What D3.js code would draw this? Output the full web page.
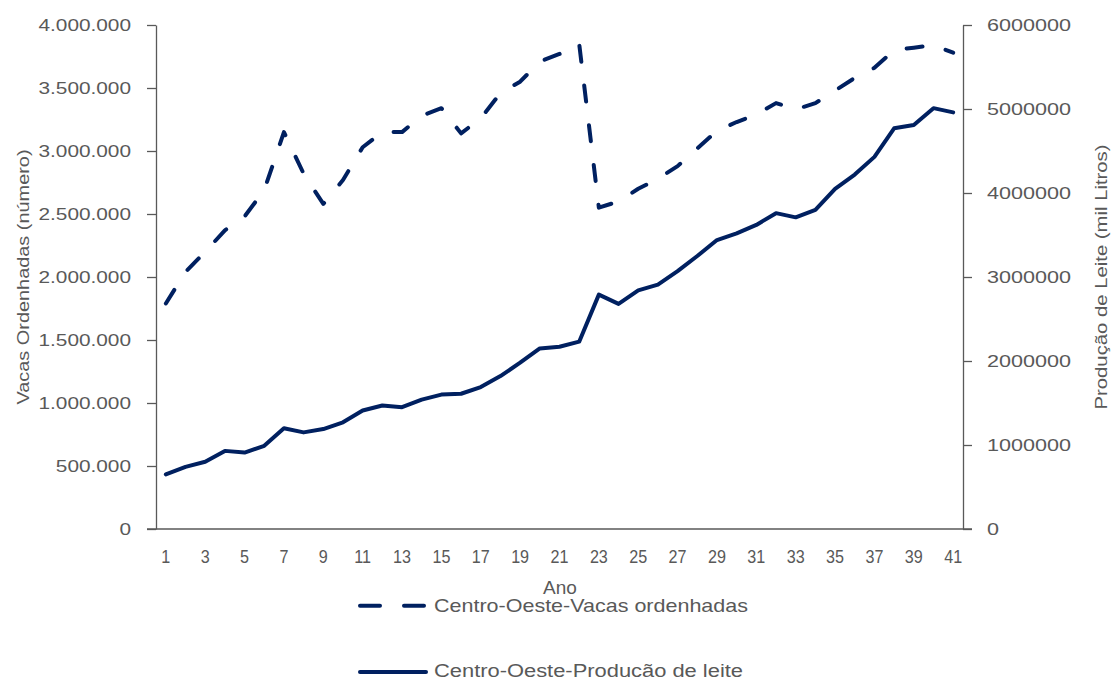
<!DOCTYPE html>
<html><head><meta charset="utf-8">
<script src="https://cdn.jsdelivr.net/npm/d3@7"></script>
<style>
html,body{margin:0;padding:0;background:#fff;}
svg{display:block;}
text{font-family:"Liberation Sans",Arial,sans-serif;fill:#595959;}
</style></head>
<body>
<svg id="chart" width="1112" height="679"></svg>
<script>
const anos = d3.range(1, 42);
const vacasOrdenhadas = [1790000,2040000,2200000,2370000,2480000,2690000,3150000,2820000,2580000,2770000,
  3030000,3150000,3150000,3280000,3340000,3140000,3260000,3460000,3550000,3710000,
  3770000,3850000,2550000,2600000,2700000,2780000,2880000,3020000,3160000,3230000,
  3290000,3380000,3330000,3380000,3480000,3580000,3660000,3800000,3820000,3840000,3780000];
const producaoLeite = [650000,740000,800000,930000,910000,990000,1200000,1150000,1190000,1270000,
  1410000,1470000,1450000,1540000,1600000,1610000,1690000,1820000,1980000,2150000,
  2170000,2230000,2790000,2680000,2840000,2910000,3070000,3250000,3440000,3520000,
  3620000,3760000,3710000,3800000,4050000,4220000,4430000,4770000,4810000,5010000,4960000];
const ticksEsq = [0,500000,1000000,1500000,2000000,2500000,3000000,3500000,4000000];
const ticksDir = [0,1000000,2000000,3000000,4000000,5000000,6000000];
const rotulosX = d3.range(1, 42, 2);
const tituloEsq = "Vacas Ordenhadas (número)";
const tituloDir = "Produção de Leite (mil Litros)";
const tituloX = "Ano";
const legendas = ["Centro-Oeste-Vacas ordenhadas", "Centro-Oeste-Producão de leite"];

const navy = "#002060", grey = "#595959";
const L = 156, R = 963, T = 25, B = 529;
const svg = d3.select("#chart");

const x = d3.scalePoint().domain(anos).range([L, R]).padding(0.5);
const yL = d3.scaleLinear().domain([0, 4000000]).range([B, T]);
const yR = d3.scaleLinear().domain([0, 6000000]).range([B, T]);

const ptBR = d3.formatLocale({decimal: ",", thousands: ".", grouping: [3], currency: ["", ""]});
const fmtL = ptBR.format(",");

function stretch(sel, f) {
  sel.each(function () {
    const w = this.getComputedTextLength();
    this.setAttribute("textLength", w * f);
    this.setAttribute("lengthAdjust", "spacingAndGlyphs");
  });
}

// left axis
const gL = svg.append("g").attr("transform", `translate(${L},0)`)
  .call(d3.axisLeft(yL).tickValues(ticksEsq).tickFormat(fmtL).tickSize(9).tickSizeOuter(0).tickPadding(16));
gL.selectAll("path.domain").attr("stroke", grey).attr("stroke-width", 1.3);
gL.selectAll(".tick line").attr("stroke", grey).attr("stroke-width", 1.3);
gL.selectAll(".tick text").style("font-size", "16px").attr("fill", grey).call(stretch, 1.3);

// right axis
const gR = svg.append("g").attr("transform", `translate(${R},0)`)
  .call(d3.axisRight(yR).tickValues(ticksDir).tickFormat(d3.format("d")).tickSize(9).tickSizeOuter(0).tickPadding(15));
gR.selectAll("path.domain").attr("stroke", grey).attr("stroke-width", 1.3);
gR.selectAll(".tick line").attr("stroke", grey).attr("stroke-width", 1.3);
gR.selectAll(".tick text").style("font-size", "17px").attr("fill", grey).call(stretch, 1.27);

// bottom axis line
svg.append("line").attr("x1", L - 9).attr("x2", R + 9).attr("y1", B).attr("y2", B)
  .attr("stroke", grey).attr("stroke-width", 1.3);

// x labels
svg.append("g").selectAll("text").data(rotulosX).join("text")
  .attr("x", d => x(d)).attr("y", 556).attr("dy", "0.36em")
  .attr("text-anchor", "middle").style("font-size", "19px").text(d => d)
  .call(stretch, 0.85);

svg.append("text").attr("x", 560).attr("y", 594).attr("text-anchor", "middle")
  .style("font-size", "19px").text(tituloX);

// axis titles
svg.append("text").attr("transform", `translate(29,${(T + B) / 2}) rotate(-90)`)
  .attr("text-anchor", "middle").style("font-size", "17px")
  .attr("textLength", 255).attr("lengthAdjust", "spacingAndGlyphs").text(tituloEsq);
svg.append("text").attr("transform", `translate(1107,${(T + B) / 2}) rotate(-90)`)
  .attr("text-anchor", "middle").style("font-size", "17px")
  .attr("textLength", 265).attr("lengthAdjust", "spacingAndGlyphs").text(tituloDir);

// lines
const lineL = d3.line().x((d, i) => x(anos[i])).y(d => yL(d));
const lineR = d3.line().x((d, i) => x(anos[i])).y(d => yR(d));

svg.append("path").datum(producaoLeite).attr("d", lineR)
  .attr("fill", "none").attr("stroke", navy).attr("stroke-width", 4)
  .attr("stroke-linejoin", "round").attr("stroke-linecap", "round");

svg.append("path").datum(vacasOrdenhadas).attr("d", lineL)
  .attr("fill", "none").attr("stroke", navy).attr("stroke-width", 4)
  .attr("stroke-dasharray", "16,24")
  .attr("stroke-linejoin", "round").attr("stroke-linecap", "round");

// legend
svg.append("line").attr("x1", 360).attr("x2", 424).attr("y1", 605.7).attr("y2", 605.7)
  .attr("stroke", navy).attr("stroke-width", 4).attr("stroke-dasharray", "20,24")
  .attr("stroke-linecap", "round");
svg.append("text").attr("x", 434).attr("y", 611.7).style("font-size", "18.5px")
  .attr("textLength", 314).attr("lengthAdjust", "spacingAndGlyphs").text(legendas[0]);

svg.append("line").attr("x1", 360).attr("x2", 426).attr("y1", 672).attr("y2", 672)
  .attr("stroke", navy).attr("stroke-width", 4).attr("stroke-linecap", "round");
svg.append("text").attr("x", 434).attr("y", 677).style("font-size", "18px")
  .attr("textLength", 309).attr("lengthAdjust", "spacingAndGlyphs").text(legendas[1]);
</script>
</body></html>
